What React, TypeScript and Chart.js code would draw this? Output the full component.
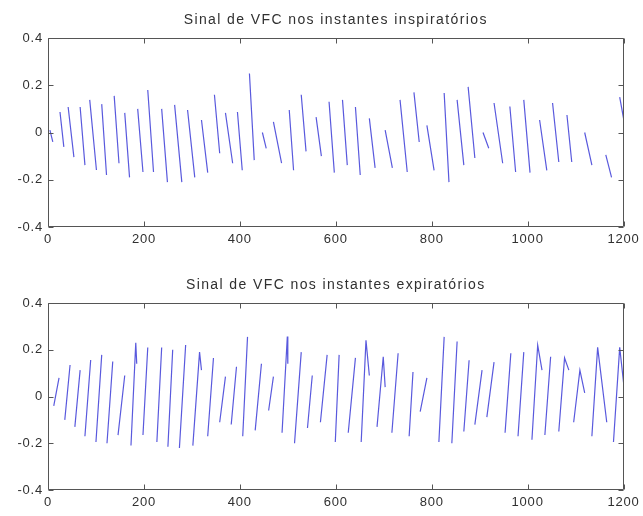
import React, { useEffect, useRef } from "react";
import { Chart, registerables } from "chart.js";

Chart.register(...registerables);

// Axis ticks shared by both panels
const xTicks = [0, 200, 400, 600, 800, 1000, 1200];
const yTicks = [-0.4, -0.2, 0, 0.2, 0.4];

const inspTitle = "Sinal de VFC nos instantes inspiratórios";
const expTitle = "Sinal de VFC nos instantes expiratórios";

// HRV strokes at inspiration: each entry is x0, y0, x1, y1 (time sample, amplitude)
const inspStrokes: number[][] = [
  [4, 0.01, 10, -0.04],
  [25, 0.087, 33, -0.061],
  [42, 0.108, 54, -0.104],
  [67, 0.108, 77, -0.138],
  [87, 0.138, 101, -0.159],
  [112, 0.12, 122, -0.18],
  [138, 0.155, 148, -0.13],
  [160, 0.083, 170, -0.19],
  [187, 0.1, 198, -0.167],
  [208, 0.18, 220, -0.167],
  [237, 0.1, 249, -0.21],
  [264, 0.117, 279, -0.21],
  [291, 0.095, 306, -0.19],
  [320, 0.053, 333, -0.17],
  [347, 0.16, 358, -0.088],
  [370, 0.083, 385, -0.13],
  [395, 0.087, 405, -0.16],
  [420, 0.25, 430, -0.117],
  [447, 0.0, 455, -0.067],
  [470, 0.045, 487, -0.13],
  [503, 0.095, 512, -0.16],
  [528, 0.16, 538, -0.08],
  [559, 0.065, 570, -0.1],
  [586, 0.13, 597, -0.17],
  [614, 0.138, 624, -0.138],
  [641, 0.108, 651, -0.18],
  [670, 0.06, 682, -0.15],
  [703, 0.01, 718, -0.15],
  [734, 0.138, 749, -0.167],
  [763, 0.17, 774, -0.04],
  [790, 0.03, 805, -0.16],
  [826, 0.167, 836, -0.21],
  [853, 0.138, 867, -0.138],
  [876, 0.193, 890, -0.108],
  [907, 0.0, 919, -0.067],
  [930, 0.125, 948, -0.13],
  [963, 0.11, 975, -0.167],
  [992, 0.138, 1005, -0.17],
  [1025, 0.053, 1040, -0.16],
  [1052, 0.125, 1065, -0.125],
  [1082, 0.074, 1092, -0.125],
  [1119, 0.0, 1134, -0.138],
  [1163, -0.095, 1175, -0.19],
  [1192, 0.15, 1200, 0.06],
];

// HRV strokes at expiration: x0, y0, x1, y1 and sometimes a falling tail x2, y2
const expStrokes: number[][] = [
  [12, -0.04, 23, 0.08],
  [35, -0.1, 46, 0.135],
  [56, -0.13, 67, 0.113],
  [77, -0.17, 89, 0.156],
  [100, -0.195, 112, 0.178],
  [123, -0.2, 135, 0.15],
  [146, -0.165, 160, 0.09],
  [173, -0.21, 183, 0.23, 185, 0.14],
  [198, -0.165, 208, 0.21],
  [227, -0.195, 237, 0.21],
  [250, -0.215, 260, 0.2],
  [274, -0.22, 287, 0.22],
  [302, -0.21, 316, 0.19, 320, 0.113],
  [333, -0.17, 345, 0.165],
  [358, -0.11, 370, 0.085],
  [382, -0.12, 393, 0.127],
  [406, -0.17, 416, 0.255],
  [432, -0.145, 445, 0.14],
  [460, -0.06, 470, 0.085],
  [488, -0.155, 499, 0.257, 500, 0.14],
  [514, -0.2, 528, 0.19],
  [541, -0.135, 551, 0.09],
  [568, -0.11, 582, 0.178],
  [599, -0.195, 607, 0.178],
  [626, -0.155, 641, 0.165],
  [653, -0.195, 663, 0.24, 670, 0.09],
  [686, -0.13, 699, 0.17, 703, 0.04],
  [717, -0.155, 730, 0.185],
  [753, -0.17, 761, 0.105],
  [776, -0.065, 790, 0.08],
  [815, -0.195, 826, 0.255],
  [842, -0.2, 853, 0.235],
  [867, -0.15, 878, 0.155],
  [890, -0.12, 905, 0.113],
  [915, -0.088, 930, 0.147],
  [953, -0.155, 965, 0.185],
  [980, -0.17, 992, 0.19],
  [1009, -0.185, 1021, 0.22, 1030, 0.113],
  [1036, -0.165, 1048, 0.17],
  [1065, -0.15, 1077, 0.165, 1086, 0.113],
  [1096, -0.11, 1109, 0.113, 1119, 0.015],
  [1134, -0.17, 1146, 0.21, 1165, -0.11],
  [1179, -0.195, 1192, 0.21, 1200, 0.06],
];

const FONT = "'Liberation Sans', Arial, Helvetica, sans-serif";
const TEXT_COLOR = "#303030";
const AXIS_COLOR = "#555555";
const LINE_COLOR = "rgba(60,60,215,0.85)";

// Flatten strokes into one series, breaking the line between strokes with nulls
function strokesToPoints(strokes: number[][]) {
  const pts: { x: number; y: number | null }[] = [];
  for (const s of strokes) {
    for (let i = 0; i < s.length; i += 2) pts.push({ x: s[i], y: s[i + 1] });
    pts.push({ x: s[s.length - 2] + 0.5, y: null });
  }
  return pts;
}

function fmtY(v: number) {
  if (Math.abs(v) < 1e-9) return "0";
  return v.toFixed(1);
}

// Slightly widened glyph spacing for the tick labels
const spacingPlugin = {
  id: "tickSpacing",
  beforeDraw(chart: any) {
    (chart.ctx as any).letterSpacing = "0.8px";
  },
};

// Box around the axes with inward tick marks on all four sides
const framePlugin = {
  id: "matlabFrame",
  afterDraw(chart: any) {
    const { ctx, chartArea } = chart;
    const { left, right, top, bottom } = chartArea;
    const xs = chart.scales.x;
    const ys = chart.scales.y;
    const tick = 5;
    ctx.save();
    ctx.strokeStyle = AXIS_COLOR;
    ctx.lineWidth = 1;
    ctx.beginPath();
    const L = Math.round(left) + 0.5;
    const R = Math.round(right) - 0.5;
    const T = Math.round(top) + 0.5;
    const B = Math.round(bottom) - 0.5;
    ctx.rect(L, T, R - L, B - T);
    for (const v of xTicks) {
      const px = Math.round(xs.getPixelForValue(v)) + 0.5;
      ctx.moveTo(px, B);
      ctx.lineTo(px, B - tick);
      ctx.moveTo(px, T);
      ctx.lineTo(px, T + tick);
    }
    for (const v of yTicks) {
      const py = Math.round(ys.getPixelForValue(v)) + 0.5;
      ctx.moveTo(L, py);
      ctx.lineTo(L + tick, py);
      ctx.moveTo(R, py);
      ctx.lineTo(R - tick, py);
    }
    ctx.stroke();
    ctx.restore();
  },
};

// Panel title centred over the axes
const titlePlugin = {
  id: "panelTitle",
  afterDraw(chart: any, _args: any, opts: any) {
    const { ctx, chartArea } = chart;
    ctx.save();
    ctx.font = `14px ${FONT}`;
    (ctx as any).letterSpacing = "1.4px";
    ctx.fillStyle = TEXT_COLOR;
    ctx.textAlign = "center";
    ctx.textBaseline = "middle";
    ctx.fillText(opts.text, (chartArea.left + chartArea.right) / 2, opts.y);
    ctx.restore();
  },
};

function Panel({
  strokes,
  title,
  titleY,
  padTop,
  xAxisHeight,
}: {
  strokes: number[][];
  title: string;
  titleY: number;
  padTop: number;
  xAxisHeight: number;
}) {
  const ref = useRef<HTMLCanvasElement>(null);

  useEffect(() => {
    if (!ref.current) return;
    const chart = new Chart(ref.current, {
      type: "line",
      data: {
        datasets: [
          {
            data: strokesToPoints(strokes) as any,
            borderColor: LINE_COLOR,
            borderWidth: 1.2,
            pointRadius: 0,
            spanGaps: false,
            tension: 0,
            fill: false,
          },
        ],
      },
      options: {
        responsive: false,
        animation: false,
        devicePixelRatio: 1,
        layout: { padding: { top: padTop, right: 18, left: 0, bottom: 0 } },
        plugins: {
          legend: { display: false },
          tooltip: { enabled: false },
          panelTitle: { text: title, y: titleY },
        } as any,
        scales: {
          x: {
            type: "linear",
            min: 0,
            max: 1200,
            afterBuildTicks: (s: any) => {
              s.ticks = xTicks.map((v) => ({ value: v }));
            },
            afterFit: (s: any) => {
              s.height = xAxisHeight;
            },
            ticks: {
              autoSkip: false,
              maxRotation: 0,
              padding: 5,
              color: TEXT_COLOR,
              font: { family: FONT, size: 13 },
              callback: (v: any) => String(v),
            },
            grid: { display: false, drawTicks: false, tickLength: 0 },
            border: { display: false },
          },
          y: {
            type: "linear",
            min: -0.4,
            max: 0.4,
            afterBuildTicks: (s: any) => {
              s.ticks = yTicks.map((v) => ({ value: v }));
            },
            afterFit: (s: any) => {
              s.width = 48;
            },
            ticks: {
              autoSkip: false,
              padding: 5,
              color: TEXT_COLOR,
              font: { family: FONT, size: 13 },
              callback: (v: any) => fmtY(Number(v)),
            },
            grid: { display: false, drawTicks: false, tickLength: 0 },
            border: { display: false },
          },
        },
      },
      plugins: [spacingPlugin, framePlugin, titlePlugin],
    });
    return () => chart.destroy();
  }, [strokes, title, titleY, padTop, xAxisHeight]);

  return <canvas ref={ref} width={643} height={258} style={{ display: "block" }} />;
}

export default function App() {
  return (
    <div
      style={{
        position: "fixed",
        left: 0,
        top: 0,
        width: 643,
        height: 516,
        background: "#ffffff",
      }}
    >
      <Panel strokes={inspStrokes} title={inspTitle} titleY={20} padTop={38} xAxisHeight={31} />
      <Panel strokes={expStrokes} title={expTitle} titleY={27} padTop={45} xAxisHeight={26} />
    </div>
  );
}
